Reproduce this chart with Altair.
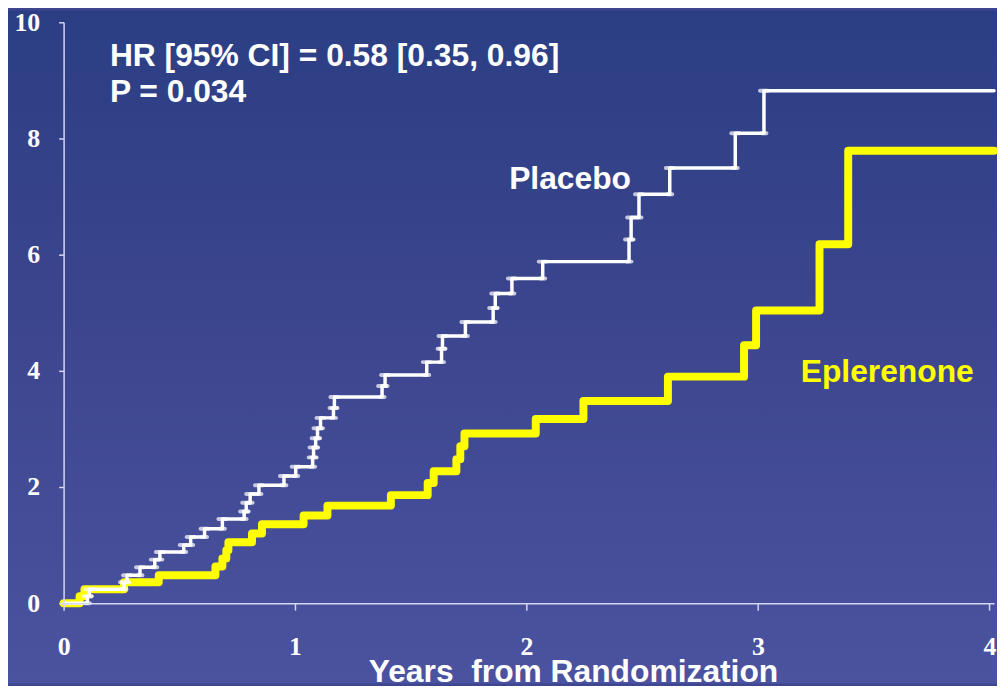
import altair as alt
import pandas as pd

# ---- data ----
placebo_years = [0, 0.103, 0.111, 0.261, 0.274, 0.330, 0.394, 0.416, 0.519, 0.549,
                 0.609, 0.686, 0.780, 0.789, 0.806, 0.844, 0.952, 1.003, 1.076, 1.080,
                 1.089, 1.097, 1.110, 1.166, 1.170, 1.376, 1.389, 1.569, 1.633, 1.637,
                 1.736, 1.856, 1.865, 1.937, 2.070, 2.443, 2.452, 2.486, 2.619, 2.902,
                 3.026, 4.02]
placebo_rate = [0, 0.12, 0.24, 0.36, 0.48, 0.62, 0.75, 0.88, 1.00, 1.14,
                1.28, 1.45, 1.58, 1.73, 1.88, 2.03, 2.19, 2.35, 2.51, 2.68,
                2.84, 3.01, 3.19, 3.36, 3.55, 3.74, 3.93, 4.15, 4.38, 4.60,
                4.84, 5.08, 5.33, 5.59, 5.88, 6.26, 6.64, 7.04, 7.49, 8.09,
                8.82, 8.82]

epl_years = [0, 0.069, 0.090, 0.261, 0.411, 0.656, 0.686, 0.703, 0.712, 0.814,
             0.857, 1.037, 1.140, 1.414, 1.573, 1.599, 1.697, 1.714, 1.732, 2.040,
             2.246, 2.611, 2.940, 2.992, 3.266, 3.390, 4.02]
epl_rate = [0, 0.12, 0.24, 0.36, 0.48, 0.63, 0.77, 0.91, 1.05, 1.20,
            1.36, 1.51, 1.68, 1.86, 2.07, 2.27, 2.48, 2.70, 2.92, 3.17,
            3.48, 3.90, 4.44, 5.04, 6.18, 7.79, 7.79]

x_ticks = [0, 1, 2, 3, 4]
y_ticks = [0, 2, 4, 6, 8, 10]

ann_text = ["HR [95% CI] = 0.58 [0.35, 0.96]", "P = 0.034", "Placebo", "Eplerenone"]
ann_x = [0.20, 0.20, 1.925, 3.185]
ann_y = [9.25, 8.62, 7.13, 3.81]
ann_color = ["white", "white", "white", "#ffff00"]

# ---- layout ----
W, H = 937, 585
PAD = {"left": 56, "top": 12, "right": 3, "bottom": 81}
XMAX = 4.02

placebo = pd.DataFrame({"years": placebo_years, "rate": placebo_rate})
epl = pd.DataFrame({"years": epl_years, "rate": epl_rate})
ticks = placebo.copy()
ticks["prev"] = ticks["rate"].shift(1)
ticks = ticks.iloc[1:-1]
ann = pd.DataFrame({"text": ann_text, "x": ann_x, "y": ann_y, "color": ann_color})

axis_col = "#d6d6f0"
x_enc = alt.X("years:Q", scale=alt.Scale(domain=[0, XMAX], nice=False),
              axis=alt.Axis(values=x_ticks, format="d", grid=False, zindex=1,
                            title="Years\u00a0 from Randomization",
                            domainColor=axis_col, domainWidth=1.5,
                            tickColor=axis_col, tickWidth=1.5, tickSize=7,
                            labelColor="white", labelFont="Liberation Serif",
                            labelFontWeight="bold", labelFontSize=26,
                            labelPadding=24, labelFlush=False,
                            titleFont="Liberation Sans", titleFontWeight="bold",
                            titleFontSize=32, titleColor="white",
                            titleX=513, titleY=79, titleAlign="center",
                            titleBaseline="alphabetic"))
y_enc = alt.Y("rate:Q", scale=alt.Scale(domain=[0, 10], nice=False),
              axis=alt.Axis(values=y_ticks, format="d", grid=False, title=None,
                            zindex=1,
                            domainColor=axis_col, domainWidth=1.5,
                            tickColor=axis_col, tickWidth=1.5, tickSize=5,
                            labelColor="white", labelFont="Liberation Serif",
                            labelFontWeight="bold", labelFontSize=26,
                            labelPadding=19))

bg = alt.Chart(pd.DataFrame({"k": [0]})).mark_rect(
    color=alt.Gradient(gradient="linear",
                       stops=[alt.GradientStop(color="#2b3e84", offset=0),
                              alt.GradientStop(color="#3d468f", offset=0.5),
                              alt.GradientStop(color="#4b53a0", offset=1)],
                       x1=0, x2=0, y1=0, y2=1),
    clip=False
).encode(x=alt.value(-PAD["left"]), x2=alt.value(W + PAD["right"]),
         y=alt.value(-PAD["top"]), y2=alt.value(H + PAD["bottom"]))

epl_line = alt.Chart(epl).mark_line(
    interpolate="step-after", color="#ffff00", strokeWidth=8,
    strokeJoin="round", strokeCap="round"
).encode(x=x_enc, y=y_enc)

pla_line = alt.Chart(placebo).mark_line(
    interpolate="step-after", color="white", strokeWidth=3.5,
    strokeJoin="round", strokeCap="round"
).encode(x="years:Q", y="rate:Q")

pla_tick_new = alt.Chart(ticks).mark_tick(
    color="white", orient="horizontal", size=12, thickness=4, cornerRadius=2
).encode(x="years:Q", y="rate:Q")
pla_tick_old = alt.Chart(ticks).mark_tick(
    color="white", orient="horizontal", size=9, thickness=4, cornerRadius=2
).encode(x="years:Q", y="prev:Q")

texts = alt.Chart(ann).mark_text(
    align="left", baseline="alphabetic", font="Liberation Sans",
    fontWeight="bold", fontSize=32
).encode(x="x:Q", y="y:Q", text="text:N", color=alt.Color("color:N", scale=None))

chart = alt.layer(bg, epl_line, pla_line, pla_tick_old, pla_tick_new, texts).properties(
    width=W, height=H,
    autosize=alt.AutoSizeParams(type="none"),
    padding=PAD,
    background="#3d468f"
).configure_view(stroke=None)

chart.save("out.html", embed_options={"renderer": "svg", "actions": False})
